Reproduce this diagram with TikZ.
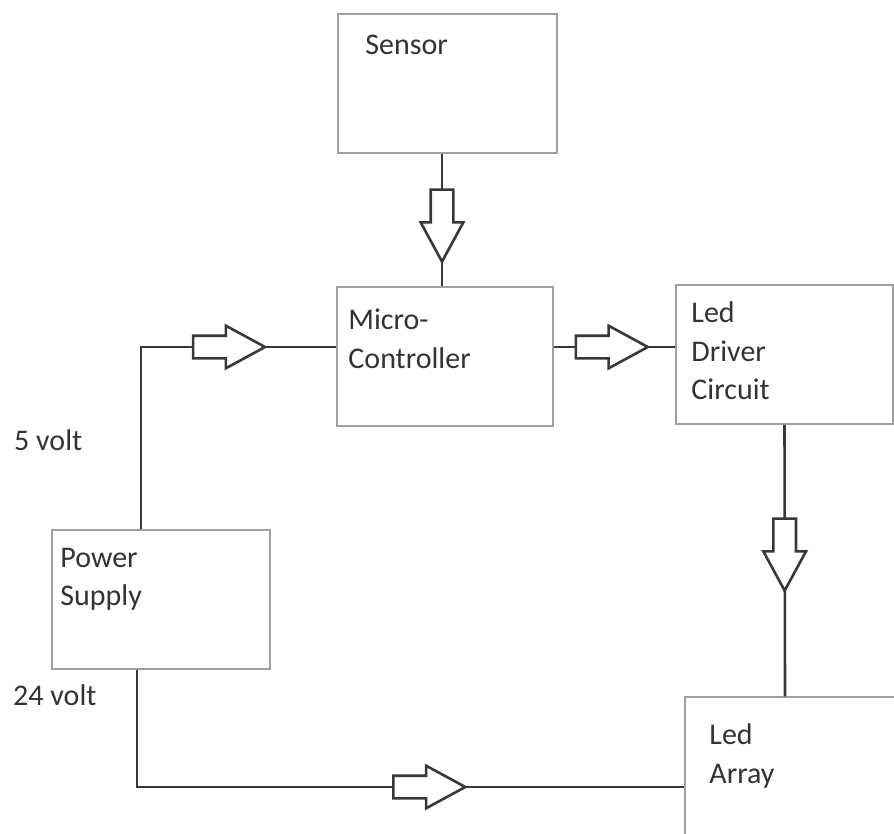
\documentclass[tikz,border=0pt]{standalone}
\usepackage{fontspec}
\setmainfont{Carlito}
\usetikzlibrary{shapes.arrows}

\begin{document}
\begin{tikzpicture}[x=1pt,y=-1pt,
  box/.style={draw=gray!75,line width=1.5pt,minimum width=#1,minimum height=139pt,inner sep=0pt},
  box/.default=218pt,
  txt/.style={anchor=north west,inner sep=0pt,align=left,text=black!80,font=\fontsize{30}{38.5}\selectfont},
  wire/.style={draw=black!78,line width=2.6pt},
  blk/.style={single arrow,draw=black!78,fill=white,line width=2.6pt,inner xsep=0pt,inner ysep=10pt,
    single arrow head extend=10pt,single arrow tip angle=57,single arrow head indent=0pt,minimum height=72pt,anchor=tail}]
\clip (0,0) rectangle (894,833);
\node[box=219pt] (sensor) at (447.5,83.5) {};
\node[box=216pt] (micro) at (445,356.5) {};
\node[box=217pt] (driver) at (784.5,354.5) {};
\node[box] (psu) at (161,599.5) {};
\node[box=217pt] (array) at (793.5,766.5) {};
\node[txt] (sensorlbl) at ([shift={(28,21.5)}]sensor.north west) {Sensor};
\node[txt] (microlbl) at ([shift={(12,22.5)}]micro.north west) {Micro-\\Controller};
\node[txt] (driverlbl) at ([shift={(16,17.5)}]driver.north west) {Led\\Driver\\Circuit};
\node[txt] (psulbl) at ([shift={(9,18.5)}]psu.north west) {Power\\Supply};
\node[txt] (arraylbl) at ([shift={(25,27.5)}]array.north west) {Led\\Array};
\node[txt] (fivev) at (14,429.5) {5 volt};
\node[txt] (twentyfourv) at (13,684.5) {24 volt};
\draw[wire] ([xshift=-5.5pt]sensor.south) -- node[blk,rotate=-90,pos=0.261]{} ([xshift=-3pt]micro.north);
\draw[wire] ([yshift=9.5pt]micro.east) -- node[blk,pos=0.171]{} ([yshift=7.5pt]driver.west);
\draw[wire] (driver.south) -- node[blk,rotate=-90,pos=0.341]{} ([xshift=-8.5pt]array.north);
\draw[wire] ([xshift=-20pt]psu.north) |- node[blk,pos=0.63]{} ([yshift=9.5pt]micro.west);
\draw[wire] ([xshift=-24pt]psu.south) |- node[blk,pos=0.733]{} ([yshift=-20.5pt]array.west);
\end{tikzpicture}
\end{document}
